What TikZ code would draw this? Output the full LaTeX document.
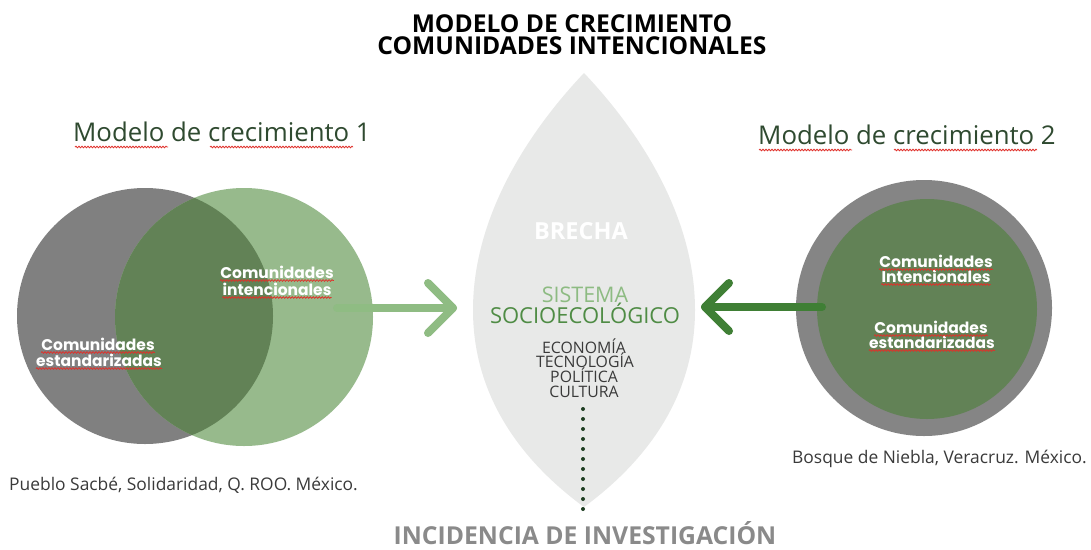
\documentclass[tikz,border=0pt]{standalone}
\usepackage{fontspec}
\setmainfont{Open Sans}
\newfontfamily\popfont{Poppins}
\usetikzlibrary{decorations.pathmorphing,calc}
\definecolor{grayc}{HTML}{808080}
\definecolor{ringc}{HTML}{858585}
\definecolor{lgreen}{HTML}{97BA8C}
\definecolor{mgreen}{HTML}{628256}
\definecolor{arrowl}{HTML}{8FBC83}
\definecolor{arrowd}{HTML}{3F7F35}
\definecolor{leafc}{HTML}{E8E9E8}
\definecolor{hdr}{HTML}{2F4A30}
\definecolor{sisl}{HTML}{8DBB82}
\definecolor{sisd}{HTML}{4F8C45}
\definecolor{dotc}{HTML}{1E3D22}
\definecolor{incc}{HTML}{8A8A8A}
\definecolor{txtc}{HTML}{3A3A3A}
\definecolor{squigc}{HTML}{E0302A}
\begin{document}
\begin{tikzpicture}[x=1pt,y=-1pt,
  lbl/.style={inner sep=0pt,anchor=base,text=white,font=\popfont\bfseries\fontsize{15.5}{16}\selectfont},
  squigline/.style={draw=squigc,line width=0.8pt,decorate,decoration={snake,segment length=3pt,amplitude=0.8pt}},
  hdrtxt/.style={inner sep=0pt,anchor=base west,text=hdr,font=\fontsize{25.8}{27}\selectfont},
  captxt/.style={inner sep=0pt,anchor=base west,text=txtc,font=\fontsize{17.4}{18}\selectfont},
  titletxt/.style={inner sep=0pt,anchor=north,align=center,text=black,font=\bfseries\fontsize{24.6}{22}\selectfont},
  factor/.style={inner sep=0pt,anchor=base,text=txtc,font=\fontsize{15.8}{16}\selectfont},
  arrowline/.style={line width=8pt,line cap=round,line join=round}
]
\useasboundingbox (0,0) rectangle (1091,549);
\fill[white] (0,0) rectangle (1091,549);

% title
\node[titletxt] (title) at (572,14.4) {MODELO DE CRECIMIENTO\\COMUNIDADES INTENCIONALES};

% headers
\node[hdrtxt] (h1) at (73,141) {Modelo de crecimiento 1};
\node[hdrtxt] (h2) at (758,144) {Modelo de crecimiento 2};
\draw[squigline] (75,147) -- (168,147);
\draw[squigline] (210,147) -- (353,147);
\draw[squigline] (759,150) -- (852,150);
\draw[squigline] (894,150) -- (1037,150);

% leaf
\fill[leafc] (584,73) .. controls (530,130) and (473,215) .. (473,310)
  .. controls (473,395) and (520,460) .. (584,507)
  .. controls (648,460) and (695,395) .. (695,310)
  .. controls (695,215) and (638,130) .. (584,73) -- cycle;
\coordinate (leafW) at (473,308);
\coordinate (leafE) at (695,308);

% left venn
\fill[grayc] (145,316) circle (128);
\fill[lgreen] (244,317) circle (129);
\begin{scope}
  \clip (145,316) circle (128);
  \fill[mgreen] (244,317) circle (129);
\end{scope}
\coordinate (venn) at (244,317);

% right circle
\fill[ringc] (924,308) circle (128);
\fill[mgreen] (927,309) circle (110);
\coordinate (rc) at (927,309);

% left venn labels
\node[lbl] (li1) at (277,278) {Comunidades};
\node[lbl] (li2) at (277,295) {intencionales};
\node[lbl] (le1) at (98,350) {Comunidades};
\node[lbl] (le2) at (99,366) {estandarizadas};
% right labels
\node[lbl] (ri1) at (936,267) {Comunidades};
\node[lbl] (ri2) at (936,282) {Intencionales};
\node[lbl] (re1) at (931,333) {Comunidades};
\node[lbl] (re2) at (932,348) {estandarizadas};
\foreach \n in {li1,li2,le1,le2,ri1,ri2,re1,re2}{
  \draw[squigline] ([yshift=-2.5pt]\n.base west) -- ([yshift=-2.5pt]\n.base east);
}

% arrows
\coordinate (a1s) at (337,308);
\coordinate (a1e) at (453,308);
\draw[arrowline,draw=arrowl] (a1s) -- (a1e);
\draw[arrowline,draw=arrowl] ($(a1e)+(-25,-25)$) -- (a1e) -- ($(a1e)+(-25,25)$);
\coordinate (a2s) at (822,307);
\coordinate (a2e) at (705,307);
\draw[arrowline,draw=arrowd] (a2s) -- (a2e);
\draw[arrowline,draw=arrowd] ($(a2e)+(24,-24)$) -- (a2e) -- ($(a2e)+(24,24)$);

% leaf texts
\node[inner sep=0pt,anchor=base,text=white,font=\bfseries\fontsize{23.5}{24}\selectfont] (brecha) at (581,239) {BRECHA};
\node[inner sep=0pt,anchor=base,text=sisl,font=\fontsize{21.5}{22}\selectfont] (sis1) at (585,302) {SISTEMA};
\node[inner sep=0pt,anchor=base,text=sisd,font=\fontsize{22}{22}\selectfont] (sis2) at (585,323) {SOCIOECOLÓGICO};
\node[factor] (f1) at (584,353) {ECONOMÍA};
\node[factor] (f2) at (585,367.5) {TECNOLOGÍA};
\node[factor] (f3) at (584,382) {POLÍTICA};
\node[factor] (f4) at (584,397) {CULTURA};

% dotted line and bottom label
\node[inner sep=0pt,anchor=base,text=incc,font=\bfseries\fontsize{24.7}{25}\selectfont] (inc) at (585,544) {INCIDENCIA DE INVESTIGACIÓN};
\coordinate (dtop) at (583,409);
\coordinate (dbot) at (583,519);
\draw[dotc,line width=4pt,line cap=round,dash pattern=on 0pt off 10pt] (dtop) -- (dbot);

% captions
\node[captxt] (c1) at (9,490) {Pueblo Sacbé, Solidaridad, Q. ROO. México.};
\node[captxt] (c2) at (792,463) {Bosque de Niebla, Veracruz. México.};
\end{tikzpicture}
\end{document}
